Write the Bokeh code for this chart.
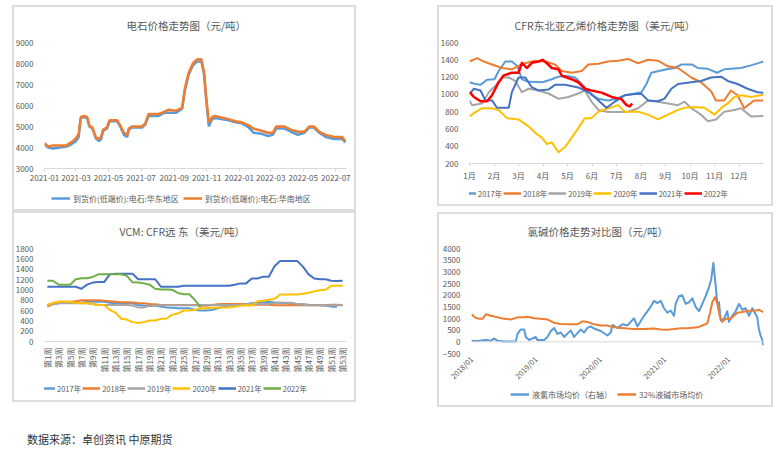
import math
from datetime import datetime
from bokeh.plotting import figure
from bokeh.models import (Range1d, Legend, LegendItem, FixedTicker, DatetimeTickFormatter,
                          MonthsTicker, Span, Div, Spacer, InlineStyleSheet)
from bokeh.layouts import row, column
from bokeh.embed import file_html
from bokeh.resources import INLINE

# ---------------- data ----------------
# Panel 1: calcium carbide (电石) price, 元/吨
cc_dates = ["2021-01-01", "2021-01-08", "2021-01-17", "2021-01-30", "2021-02-11", "2021-02-17",
            "2021-02-23", "2021-03-01", "2021-03-06", "2021-03-10", "2021-03-15", "2021-03-22",
            "2021-03-26", "2021-04-01", "2021-04-07", "2021-04-13", "2021-04-17", "2021-04-21",
            "2021-04-28", "2021-05-03", "2021-05-17", "2021-05-23", "2021-05-30", "2021-06-05",
            "2021-06-08", "2021-06-14", "2021-07-03", "2021-07-09", "2021-07-15", "2021-08-03",
            "2021-08-13", "2021-08-22", "2021-09-04", "2021-09-16", "2021-09-21", "2021-09-28",
            "2021-10-06", "2021-10-14", "2021-10-22", "2021-10-27", "2021-10-31", "2021-11-05",
            "2021-11-11", "2021-11-17", "2021-12-12", "2021-12-25", "2022-01-06", "2022-01-19",
            "2022-01-28", "2022-02-12", "2022-02-24", "2022-03-05", "2022-03-11", "2022-03-27",
            "2022-04-08", "2022-04-21", "2022-05-03", "2022-05-12", "2022-05-21", "2022-05-31",
            "2022-06-12", "2022-06-28", "2022-07-13", "2022-07-19"]
cc_east = [4150, 4000, 3950, 4000, 4050, 4100, 4200, 4300, 4500, 5400, 5450, 5400, 5000, 4900,
           4450, 4300, 4400, 4800, 4900, 5250, 5250, 5000, 4600, 4500, 4850, 4950, 4950, 5100,
           5500, 5500, 5650, 5650, 5650, 5850, 6700, 7450, 7900, 8100, 8100, 7500, 6300, 5000,
           5350, 5400, 5300, 5200, 5150, 4950, 4700, 4650, 4550, 4600, 4900, 4900, 4750, 4600,
           4700, 4950, 4950, 4700, 4500, 4400, 4400, 4250]
cc_south = [4200, 4050, 4100, 4100, 4100, 4200, 4300, 4450, 4650, 5450, 5500, 5450, 5050, 4950,
            4500, 4400, 4500, 4850, 4950, 5300, 5300, 5050, 4700, 4600, 4900, 5000, 5000, 5150,
            5600, 5600, 5700, 5800, 5750, 5900, 6800, 7550, 8000, 8200, 8200, 7600, 6400, 5200,
            5450, 5500, 5350, 5250, 5200, 5050, 4900, 4800, 4700, 4700, 5000, 5000, 4850, 4750,
            4750, 5000, 5000, 4750, 4600, 4500, 4500, 4300]
cc_ticks = [3000, 4000, 5000, 6000, 7000, 8000, 9000]

# Panel 2: CFR NE Asia ethylene, USD/t, x in months (1 = 1 Jan)
month_ticks = list(range(1, 13))
month_labels = [f"{m}月" for m in month_ticks]
eth_x_2017 = [1.00, 1.24, 1.45, 1.72, 2.02, 2.19, 2.46, 2.73, 2.96, 3.14, 3.41, 3.98, 4.36, 4.63,
              4.93, 5.31, 5.65, 5.98, 6.26, 6.66, 7.01, 7.34, 7.75, 8.02, 8.22, 8.42, 9.05, 9.37,
              9.64, 10.09, 10.32, 10.73, 11.10, 11.40, 12.08, 12.49, 12.89, 13.00]
eth_y_2017 = [1140, 1120, 1110, 1170, 1175, 1270, 1380, 1380, 1325, 1175, 1145, 1140, 1175, 1205,
              1215, 1195, 1100, 990, 950, 930, 950, 990, 1010, 1025, 1120, 1250, 1290, 1305,
              1345, 1345, 1305, 1295, 1250, 1290, 1305, 1335, 1370, 1380]
eth_x_2018 = [1.00, 1.31, 1.58, 1.92, 2.33, 2.73, 2.96, 3.28, 3.68, 4.09, 4.49, 4.77, 5.17, 5.58,
              5.85, 6.26, 6.66, 7.07, 7.47, 7.88, 8.29, 8.69, 9.10, 9.51, 9.78, 10.05, 10.45,
              10.86, 11.06, 11.40, 11.67, 11.94, 12.21, 12.62, 13.00]
eth_y_2018 = [1380, 1420, 1380, 1345, 1305, 1290, 1325, 1360, 1390, 1380, 1345, 1270, 1250, 1270,
              1345, 1355, 1380, 1390, 1410, 1360, 1400, 1390, 1325, 1305, 1250, 1195, 1140,
              1035, 930, 930, 1045, 990, 840, 930, 930]
eth_x_2019 = [1.00, 1.11, 1.51, 1.79, 2.06, 2.33, 2.60, 2.87, 3.14, 3.41, 3.82, 4.22, 4.63, 5.04,
              5.44, 5.71, 5.98, 6.26, 6.66, 7.07, 7.47, 7.88, 8.29, 8.69, 9.10, 9.51, 9.78,
              10.05, 10.45, 10.73, 11.06, 11.40, 11.81, 12.08, 12.49, 13.00]
eth_y_2019 = [930, 875, 895, 1025, 1100, 1195, 1195, 1155, 1025, 1065, 1045, 1010, 950, 970,
              1010, 1045, 915, 820, 795, 795, 800, 840, 930, 915, 895, 875, 915,
              840, 765, 690, 710, 800, 820, 840, 745, 750]
eth_x_2020 = [1.00, 1.24, 1.51, 1.92, 2.19, 2.53, 3.00, 3.41, 3.68, 3.95, 4.16, 4.36, 4.63, 4.90,
              5.17, 5.44, 5.71, 5.98, 6.26, 6.66, 7.07, 7.34, 7.88, 8.29, 8.69, 9.10, 9.51,
              9.78, 10.18, 10.59, 11.00, 11.27, 11.54, 11.81, 12.08, 12.49, 13.00]
eth_y_2020 = [745, 795, 840, 840, 820, 725, 710, 630, 555, 500, 425, 445, 330, 390,
              500, 610, 725, 725, 800, 840, 875, 800, 800, 765, 710, 765, 820,
              845, 855, 845, 765, 840, 895, 970, 990, 970, 995]
eth_x_2021 = [1.00, 1.18, 1.45, 1.65, 1.92, 2.12, 2.60, 2.73, 3.00, 3.28, 3.55, 3.82, 4.22, 4.49,
              4.90, 5.44, 5.71, 5.98, 6.26, 6.59, 6.93, 7.34, 7.75, 8.02, 8.29, 8.69, 8.96,
              9.24, 9.51, 10.05, 10.45, 10.86, 11.27, 11.54, 11.94, 12.35, 12.76, 13.00]
eth_y_2021 = [1005, 1065, 1045, 930, 930, 845, 845, 1025, 1195, 1195, 1080, 1045, 1055, 1110,
              1110, 1080, 1045, 1005, 930, 845, 915, 990, 1005, 1005, 930, 920, 950,
              1065, 1120, 1140, 1155, 1195, 1205, 1155, 1120, 1065, 1025, 1020]
eth_x_2022 = [1.00, 1.18, 1.45, 1.72, 1.92, 2.19, 2.40, 2.73, 3.00, 3.14, 3.34, 3.55, 3.82, 3.98,
              4.16, 4.36, 4.63, 4.77, 5.17, 5.44, 5.71, 5.98, 6.39, 6.80, 7.20, 7.41, 7.54, 7.64]
eth_y_2022 = [1025, 970, 920, 920, 990, 1140, 1220, 1250, 1250, 1365, 1305, 1365, 1380, 1400,
              1360, 1305, 1290, 1215, 1175, 1140, 1065, 1045, 1020, 970, 945, 875, 860, 895]
eth_ticks = [200, 400, 600, 800, 1000, 1200, 1400, 1600]

# Panel 3: VCM CFR Far East, USD/t, weekly
weeks = list(range(1, 54))
week_ticks = list(range(1, 54, 2))
vcm_2017 = [705, 725, 740, 750, 750, 750, 750, 770, 770, 770, 770, 750, 740, 740, 740, 740, 705,
            695, 690, 690, 675, 660, 655, 645, 645, 645, 610, 600, 600, 610, 645, 675, 695, 705,
            720, 725, 740, 750, 755, 770, 755, 750, 740, 725, 720, 720, 710, 705, 700, 695, 675,
            675]
vcm_2018 = [675, 725, 770, 770, 770, 780, 800, 800, 800, 800, 790, 780, 770, 760, 760, 755, 745,
            740, 725, 720, 705, 705, 705, 705, 705, 705, 705, 690, 690, 705, 720, 725, 725, 725,
            725, 720, 710, 710, 710, 710, 700, 700, 700, 700, 700, 700, 700, 700, 700, 700, 710,
            710, 700]
vcm_2019 = [705, 720, 740, 740, 740, 740, 740, 740, 725, 705, 705, 705, 705, 705, 705, 695, 660,
            660, 690, 695, 700, 700, 700, 700, 700, 700, 700, 705, 705, 705, 705, 705, 705, 705,
            705, 725, 725, 725, 725, 725, 750, 750, 750, 750, 725, 710, 700, 700, 700, 700, 700,
            700, 700]
vcm_2020 = [705, 750, 770, 770, 770, 750, 740, 740, 725, 705, 705, 610, 560, 440, 425, 375, 360,
            375, 405, 405, 440, 445, 520, 540, 600, 600, 610, 645, 645, 655, 660, 660, 660, 675,
            690, 700, 695, 780, 790, 810, 825, 910, 910, 910, 910, 925, 945, 970, 990, 1000, 1080,
            1080, 1080]
vcm_2021 = [1060, 1060, 1060, 1060, 1060, 1060, 1020, 1100, 1140, 1150, 1150, 1300, 1310, 1310,
            1310, 1310, 1205, 1205, 1205, 1205, 1060, 1060, 1060, 1060, 1080, 1080, 1080, 1080,
            1080, 1080, 1080, 1080, 1080, 1100, 1125, 1125, 1220, 1220, 1255, 1255, 1455, 1560,
            1560, 1560, 1560, 1450, 1300, 1220, 1205, 1205, 1175, 1170, 1175]
vcm_2022 = [1175, 1175, 1100, 1100, 1100, 1205, 1225, 1225, 1250, 1300, 1300, 1300, 1300, 1300,
            1270, 1145, 1140, 1125, 1100, 1020, 1005, 1005, 1000, 940, 915, 915, 800, 660]
vcm_ticks = [0, 200, 400, 600, 800, 1000, 1200, 1400, 1600, 1800]

# Panel 4: chlor-alkali, 元/吨, x in fractional years
cl_t = [2018.000, 2018.093, 2018.223, 2018.301, 2018.353, 2018.405, 2018.508, 2018.612, 2018.690,
        2018.716, 2018.768, 2018.820, 2018.846, 2018.898, 2019.001, 2019.027, 2019.131, 2019.183,
        2019.235, 2019.287, 2019.339, 2019.390, 2019.442, 2019.546, 2019.598, 2019.702, 2019.754,
        2019.805, 2019.857, 2019.909, 2020.013, 2020.117, 2020.169, 2020.195, 2020.272, 2020.350,
        2020.428, 2020.480, 2020.532, 2020.584, 2020.687, 2020.791, 2020.843, 2020.895, 2020.947,
        2020.999, 2021.051, 2021.102, 2021.154, 2021.180, 2021.232, 2021.284, 2021.336, 2021.388,
        2021.440, 2021.492, 2021.543, 2021.595, 2021.647, 2021.699, 2021.735, 2021.767, 2021.803,
        2021.829, 2021.855, 2021.881, 2021.933, 2021.984, 2022.010, 2022.062, 2022.114, 2022.166,
        2022.218, 2022.270, 2022.322, 2022.374, 2022.425, 2022.451, 2022.477, 2022.503, 2022.529,
        2022.545]
cl_price = [50, 40, 80, 50, 140, 50, 10, 10, 10, 340, 530, 530, 210, 80, 210, 80, 80, 210, 465,
            595, 340, 400, 210, 490, 210, 530, 400, 595, 660, 570, 465, 270, 400, 725, 595, 750,
            700, 855, 1010, 660, 1115, 1500, 1760, 1660, 1760, 1440, 1245, 1345, 1115, 1630, 1955,
            1995, 1630, 1695, 1865, 1500, 1310, 1630, 1955, 2345, 2695, 3380, 2410, 1630, 1695,
            920, 985, 1310, 855, 1115, 1310, 1630, 1375, 1440, 1115, 1440, 1180, 1050, 530, 270,
            80, -155]
naoh_t = [2018.000, 2018.052, 2018.119, 2018.171, 2018.223, 2018.301, 2018.405, 2018.508,
          2018.612, 2018.716, 2018.820, 2018.872, 2018.975, 2019.079, 2019.183, 2019.287,
          2019.390, 2019.546, 2019.650, 2019.728, 2019.805, 2019.909, 2020.013, 2020.117,
          2020.220, 2020.324, 2020.428, 2020.532, 2020.687, 2020.843, 2020.947, 2021.051,
          2021.154, 2021.258, 2021.362, 2021.518, 2021.595, 2021.673, 2021.715, 2021.751,
          2021.792, 2021.829, 2021.865, 2021.907, 2021.958, 2022.036, 2022.088, 2022.140,
          2022.218, 2022.322, 2022.425, 2022.477, 2022.545]
naoh_price = [1180, 1050, 985, 985, 1180, 1115, 1050, 985, 960, 1050, 1050, 1075, 1010, 985,
              960, 815, 765, 750, 750, 880, 855, 750, 700, 700, 620, 595, 570, 555, 555, 570,
              530, 520, 545, 580, 580, 620, 700, 790, 1245, 1695, 1915, 1630, 1115, 855, 985,
              985, 1115, 1245, 1280, 1335, 1345, 1375, 1270]
year_ticks = [2018, 2019, 2020, 2021, 2022]
year_labels = ["2018/01", "2019/01", "2020/01", "2021/01", "2022/01"]
ca_ticks = [-500, 0, 500, 1000, 1500, 2000, 2500, 3000, 3500, 4000]

# ---------------- style ----------------
FONT = "Noto Sans CJK SC"
TXT = "#595959"
AX = "#d9d9d9"
BLUE, ORANGE, GRAY, YELLOW = "#5B9BD5", "#ED7D31", "#A5A5A5", "#FFC000"
DBLUE, RED, GREEN = "#4472C4", "#FF0000", "#70AD47"
PANEL_CSS = InlineStyleSheet(css=":host { outline: 2px solid #dcdcdc; outline-offset: -2px; "
                                 "box-shadow: inset 0 0 0 2px #dcdcdc; }")
LEG_SHIFT = 32   # the legend strip places its legend this far right of the requested x


def base(width, height, left, right, top, bottom, x_range, y_range, title, toff,
         x_axis_type="linear", standoff=20):
    p = figure(width=width, height=height, x_range=x_range, y_range=y_range,
               x_axis_type=x_axis_type, output_backend="svg", toolbar_location=None,
               min_border_left=left, min_border_right=right, min_border_top=top,
               min_border_bottom=bottom)
    p.border_fill_alpha = 0
    p.background_fill_alpha = 0
    p.title.text = title
    p.title.align = "left"
    p.title.offset = toff
    p.title.standoff = standoff
    p.title.text_font = FONT
    p.title.text_font_size = "10.5px"
    p.title.text_font_style = "normal"
    p.title.text_color = TXT
    p.outline_line_color = None
    p.xgrid.visible = False
    p.ygrid.visible = False
    for ax in p.axis:
        ax.major_label_text_font = FONT
        ax.major_label_text_font_size = "8px"
        ax.major_label_text_color = TXT
        ax.minor_tick_line_color = None
    p.yaxis.axis_line_color = None
    p.yaxis.major_tick_line_color = None
    p.yaxis.major_label_standoff = 5
    p.xaxis.axis_line_color = AX
    p.xaxis.major_tick_line_color = AX
    p.xaxis.major_tick_out = 3
    p.xaxis.major_tick_in = 0
    p.xaxis.major_label_standoff = 3
    return p


def legend_fig(width, height, entries, x, y, font_size="7.5px", spacing=1, glyph_width=18,
               standoff=2):
    # A strip that only carries the legend; its series sit outside the strip's view,
    # so only the legend swatches and labels are visible.
    f = figure(width=width, height=height, x_range=Range1d(-2.0, -1.0),
               y_range=Range1d(-1e7, -9e6), output_backend="svg", toolbar_location=None,
               min_border=0, min_border_left=0, min_border_right=0, min_border_top=0,
               min_border_bottom=0)
    f.left = []
    f.right = []
    f.below = []
    f.above = []
    f.center = []
    f.border_fill_alpha = 0
    f.background_fill_alpha = 0
    f.outline_line_color = None
    items = []
    for label, xs, ys, color, lw in entries:
        r = f.line(xs, ys, line_color=color, line_width=lw)
        items.append(LegendItem(label=label, renderers=[r]))
    leg = Legend(items=items, location=(x - LEG_SHIFT, y), orientation="horizontal",
                 padding=0, margin=0, spacing=spacing, glyph_width=glyph_width,
                 glyph_height=10, label_standoff=standoff, label_height=12,
                 label_text_font=FONT, label_text_font_size=font_size,
                 label_text_color=TXT, border_line_color=None, background_fill_alpha=0)
    f.add_layout(leg, "center")
    return f


# ---- Panel 1 ----
d1 = [datetime.fromisoformat(s) for s in cc_dates]
p1 = base(344, 184, 29, 10, 33, 21,
          Range1d(datetime(2021, 1, 1), datetime(2022, 7, 21)), Range1d(3000, 9000),
          "电石价格走势图（元/吨）", 82, x_axis_type="datetime")
p1.xaxis.ticker = MonthsTicker(months=[0, 2, 4, 6, 8, 10])
p1.xaxis.formatter = DatetimeTickFormatter(months="%Y-%m", days="%Y-%m", years="%Y-%m")
p1.yaxis.ticker = FixedTicker(ticks=cc_ticks)
p1.line(d1, cc_east, line_color=BLUE, line_width=2.5)
p1.line(d1, cc_south, line_color=ORANGE, line_width=2.5)
l1 = legend_fig(344, 22, [("到货价(低端价):电石:华东地区", list(range(len(cc_east))), cc_east, BLUE, 2.5),
                          ("到货价(低端价):电石:华南地区", list(range(len(cc_south))), cc_south, ORANGE, 2.5)],
                39, 7, font_size="8px", spacing=4, glyph_width=19, standoff=3)

# ---- Panel 2 ----
p2 = base(336, 180, 30, 10, 34, 22, Range1d(1, 13), Range1d(200, 1600),
          "CFR东北亚乙烯价格走势图（美元/吨）", 45)
p2.xaxis.ticker = FixedTicker(ticks=month_ticks)
p2.xaxis.major_label_overrides = {t: l for t, l in zip(month_ticks, month_labels)}
p2.yaxis.ticker = FixedTicker(ticks=eth_ticks)
eth = [("2017年", eth_x_2017, eth_y_2017, BLUE, 2),
       ("2018年", eth_x_2018, eth_y_2018, ORANGE, 2),
       ("2019年", eth_x_2019, eth_y_2019, GRAY, 2),
       ("2020年", eth_x_2020, eth_y_2020, YELLOW, 2),
       ("2021年", eth_x_2021, eth_y_2021, DBLUE, 2),
       ("2022年", eth_x_2022, eth_y_2022, RED, 2.5)]
for lab, xs, ys, c, w in eth:
    p2.line(xs, ys, line_color=c, line_width=w, line_join="round")
l2 = legend_fig(336, 21, [(lab, xs, ys, c, 2.5) for lab, xs, ys, c, _ in eth], 21, 7)

# ---- Panel 3 ----
p3 = base(344, 168, 30, 11, 34, 38, Range1d(0.5, 53.5), Range1d(0, 1800),
          "VCM: CFR远 东（美元/吨）", 75)
p3.xaxis.ticker = FixedTicker(ticks=week_ticks)
p3.xaxis.major_label_overrides = {w: f"第{w}周" for w in week_ticks}
p3.xaxis.major_label_orientation = math.pi / 2
p3.xaxis.major_tick_line_color = None
p3.yaxis.ticker = FixedTicker(ticks=vcm_ticks)
vcm = [("2017年", vcm_2017, BLUE), ("2018年", vcm_2018, ORANGE), ("2019年", vcm_2019, GRAY),
       ("2020年", vcm_2020, YELLOW), ("2021年", vcm_2021, DBLUE), ("2022年", vcm_2022, GREEN)]
for lab, ys, c in vcm:
    p3.line(weeks[:len(ys)], ys, line_color=c, line_width=2, line_join="round")
l3 = legend_fig(344, 23, [(lab, weeks[:len(ys)], ys, c, 2.5) for lab, ys, c in vcm], 25, 8)

# ---- Panel 4 ----
p4 = base(336, 176, 34, 10, 32, 28, Range1d(2018.0, 2022.548), Range1d(-500, 4000),
          "氯碱价格走势对比图（元/吨）", 56, standoff=19)
p4.xaxis.ticker = FixedTicker(ticks=year_ticks)
p4.xaxis.major_label_overrides = {t: l for t, l in zip(year_ticks, year_labels)}
p4.xaxis.major_label_orientation = math.pi / 4
p4.xaxis.major_label_text_font_size = "7.5px"
p4.xaxis.axis_line_color = None
p4.xaxis.major_tick_line_color = None
p4.xaxis.major_label_standoff = 1
p4.yaxis.ticker = FixedTicker(ticks=ca_ticks)
p4.add_layout(Span(location=0, dimension="width", line_color=AX, line_width=1))
p4.line(cl_t, cl_price, line_color=BLUE, line_width=2, line_join="round")
p4.line(naoh_t, naoh_price, line_color=ORANGE, line_width=2, line_join="round")
l4 = legend_fig(336, 19, [("液氯市场均价（右轴）", cl_t, cl_price, BLUE, 2.5),
                          ("32%液碱市场均价", naoh_t, naoh_price, ORANGE, 2.5)],
                71, 7, font_size="8px", spacing=5, glyph_width=19, standoff=3)

footer = Div(text="数据来源：卓创资讯 中原期货", width=300, height=12,
             styles={"font-family": FONT, "font-size": "11px", "line-height": "12px",
                     "color": "#333333"})

panel_a = column(p1, l1, stylesheets=[PANEL_CSS])
panel_b = column(p2, l2, stylesheets=[PANEL_CSS])
panel_c = column(p3, l3, stylesheets=[PANEL_CSS])
panel_d = column(p4, l4, stylesheets=[PANEL_CSS])

layout = column(
    Spacer(height=5),
    row(Spacer(width=12), column(panel_a, panel_c), Spacer(width=81),
        column(panel_b, Spacer(height=6), panel_d)),
    Spacer(height=21),
    row(Spacer(width=22), footer),
)

open("out.html", "w").write(file_html(layout, INLINE))
